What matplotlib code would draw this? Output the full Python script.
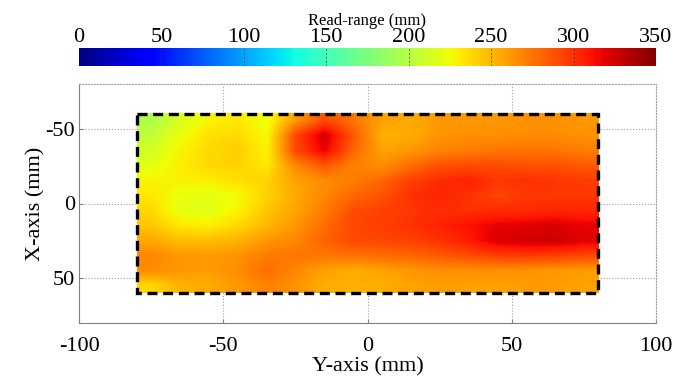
import numpy as np
import matplotlib
matplotlib.use('Agg')
import matplotlib.pyplot as plt
from matplotlib.patches import Rectangle

plt.rcParams['font.family'] = ['Liberation Serif', 'DejaVu Serif']
plt.rcParams['axes.unicode_minus'] = False

# Cell centres of the measured area (mm)
y_axis_pos = [-75, -65, -55, -45, -35, -25, -15, -5, 5, 15, 25, 35, 45, 55, 65, 75]
x_axis_pos = [-55, -45, -35, -25, -15, -5, 5, 15, 25, 35, 45, 55]
cbar_ticks = [0, 50, 100, 150, 200, 250, 300, 350]

# Measured read-range (mm), one row per X-axis position
read_range = np.array([
    [195, 215, 228, 232, 222, 262, 290, 275, 258, 255, 262, 262, 262, 264, 264, 262],
    [205, 222, 235, 238, 225, 292, 325, 285, 252, 255, 262, 265, 265, 266, 266, 264],
    [212, 228, 238, 242, 228, 292, 318, 280, 258, 262, 270, 272, 275, 275, 275, 272],
    [220, 230, 238, 240, 232, 268, 285, 270, 265, 278, 288, 290, 290, 288, 288, 285],
    [228, 228, 230, 235, 240, 258, 266, 272, 280, 295, 302, 305, 298, 300, 298, 296],
    [232, 222, 220, 225, 240, 255, 268, 280, 288, 300, 305, 300, 292, 298, 298, 298],
    [238, 220, 218, 228, 245, 258, 272, 290, 294, 298, 302, 300, 302, 302, 304, 304],
    [245, 232, 230, 238, 250, 262, 278, 292, 295, 300, 305, 312, 318, 320, 322, 318],
    [255, 248, 248, 252, 262, 268, 282, 290, 292, 295, 300, 308, 322, 325, 325, 320],
    [268, 262, 260, 264, 272, 275, 274, 276, 278, 280, 285, 290, 295, 296, 295, 292],
    [266, 262, 260, 266, 278, 268, 258, 254, 258, 262, 265, 265, 265, 264, 262, 260],
    [238, 252, 255, 262, 270, 264, 254, 252, 254, 258, 260, 258, 258, 260, 260, 258],
])

W, H = 689, 379
fig = plt.figure(figsize=(W / 100, H / 100), dpi=100)
ax = fig.add_axes([79 / W, 1 - 323 / H, 577 / W, 239 / H])

step = 10
extent = [y_axis_pos[0] - step / 2, y_axis_pos[-1] + step / 2,
          x_axis_pos[-1] + step / 2, x_axis_pos[0] - step / 2]
im = ax.imshow(read_range, cmap='jet', vmin=0, vmax=350, extent=extent,
               aspect='auto', interpolation='bilinear', zorder=2)

# dashed outline of the scanned region
ax.add_patch(Rectangle((extent[0], extent[3]), extent[1] - extent[0], extent[2] - extent[3],
                       fill=False, edgecolor='black', lw=2.4, ls=(0, (3, 1.7)), zorder=3))

ax.set_xlim(-100, 100)
ax.set_ylim(80, -80)
ax.set_xticks([-100, -50, 0, 50, 100])
ax.set_yticks([-50, 0, 50])
ax.grid(True, ls=':', color='#a0a0a0', lw=0.8, zorder=0)
ax.tick_params(direction='in', length=3, color='#808080', labelsize=16)
ax.tick_params(axis='x', pad=10)
ax.tick_params(axis='y', pad=3)
for side in ['left', 'bottom']:
    ax.spines[side].set_color('#808080')
for side in ['top', 'right']:
    ax.spines[side].set_color('#a0a0a0')
    ax.spines[side].set_linestyle(':')
ax.set_xlabel('Y-axis (mm)', fontsize=16, labelpad=1)
ax.set_ylabel('X-axis (mm)', fontsize=16, labelpad=0)

# colour bar across the top
cax = fig.add_axes([79 / W, 1 - 66 / H, 577 / W, 18 / H])
cb = fig.colorbar(im, cax=cax, orientation='horizontal', ticks=cbar_ticks)
cb.outline.set_visible(False)
cax.xaxis.set_ticks_position('top')
cax.xaxis.set_label_position('top')
cax.tick_params(length=0, labelsize=16, pad=1)
for t in cbar_ticks[1:-1]:
    cax.axvline(t, color='#404040', lw=0.7, ls=(0, (2, 2)), alpha=0.7)
cb.set_label('Read-range (mm)', fontsize=12, labelpad=2)

fig.savefig('out.png', dpi=100)
